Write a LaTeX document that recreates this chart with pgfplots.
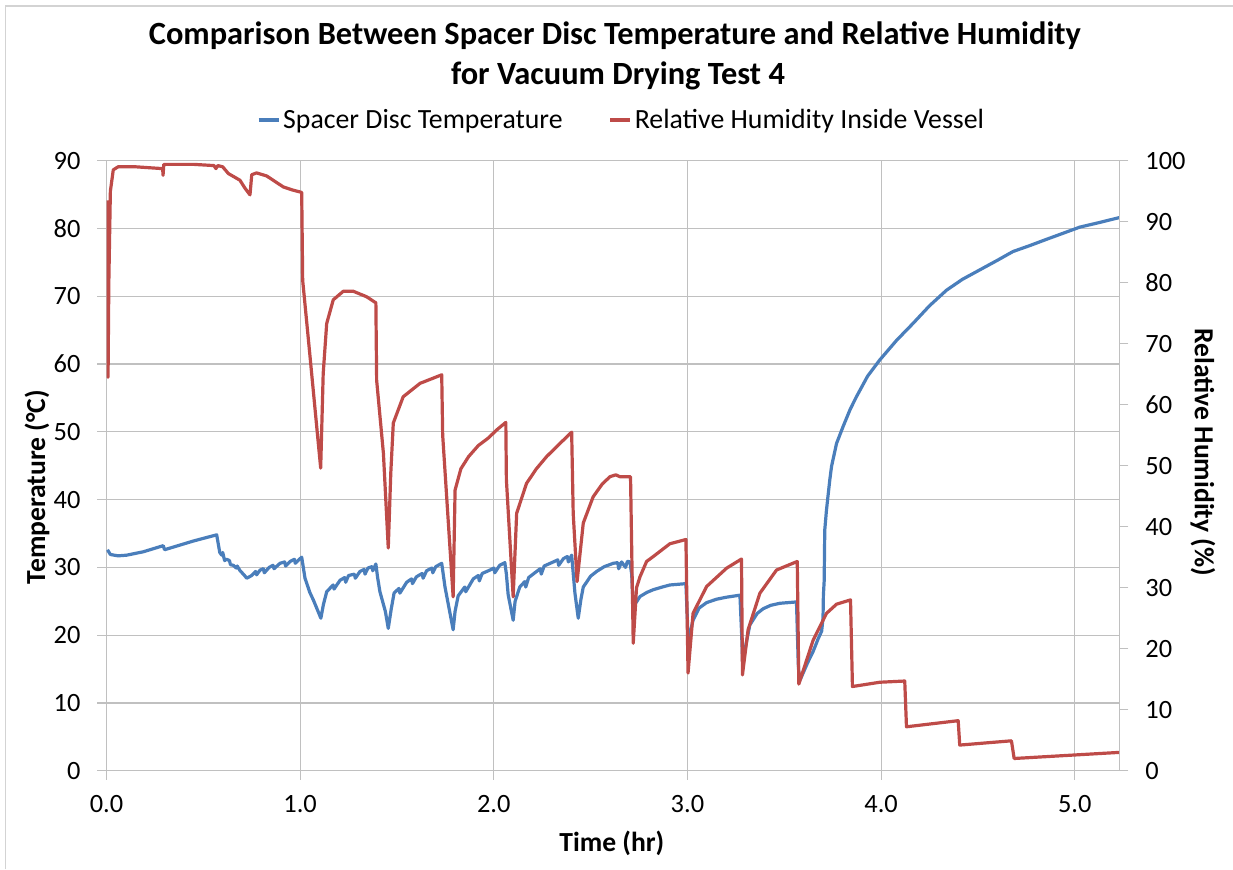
\documentclass[border=0pt]{standalone}
\usepackage{fontspec}
\setmainfont{Carlito}
\usepackage{pgfplots}
\pgfplotsset{compat=1.18}
\definecolor{tblue}{HTML}{4A7EBB}
\definecolor{tred}{HTML}{BE4B48}
\definecolor{gridc}{HTML}{C0C0C0}
\begin{document}
\begin{tikzpicture}
\path[use as bounding box] (0pt,0pt) rectangle (616.5pt,434.5pt);
\draw[gridc!70, line width=0.6pt] (2.8pt,0pt) -- (2.8pt,431.5pt) -- (616.5pt,431.5pt);
\node[font=\fontsize{16.2}{19}\selectfont\bfseries] at (307.5pt,416.5pt) {Comparison Between Spacer Disc Temperature and Relative Humidity};
\node[font=\fontsize{16.2}{19}\selectfont\bfseries] at (309pt,396.5pt) {for Vacuum Drying Test 4};
\begin{axis}[
  at={(53.25pt,49.15pt)}, anchor=south west, scale only axis,
  width=506.4pt, height=305pt,
  xmin=0, xmax=5.23, ymin=0, ymax=90,
  xtick={0,1,2,3,4,5}, ytick={0,10,...,90},
  xticklabel style={yshift=-4.5pt, /pgf/number format/.cd, fixed, fixed zerofill, precision=1},
  yticklabel style={xshift=-5pt},
  grid=major, major grid style={gridc, line width=0.6pt},
  axis line style={gridc, line width=0.6pt},
  tick style={gridc, line width=0.6pt}, tick align=outside, major tick length=4.5pt,
  xtick pos=bottom, ytick pos=left,
  ticklabel style={font=\fontsize{13.2}{15}\selectfont},
  /pgf/number format/assume math mode=true,
  xlabel={Time (hr)}, ylabel={Temperature (°C)},
  label style={font=\fontsize{13.8}{16}\selectfont\bfseries},
  xlabel style={at={(axis description cs:0.499,-0.1185)}, anchor=center},
  ylabel style={at={(axis description cs:-0.0686,0.465)}, anchor=center},
]
\addplot[tblue, line width=1.6pt, line join=round] coordinates {
(0.005,32.6) (0.02,31.9) (0.06,31.7) (0.104,31.8) (0.19,32.3) (0.293,33.2) (0.300,32.6) (0.311,32.7) (0.45,33.9) (0.569,34.8)
(0.58,33.0) (0.585,32.2) (0.595,31.8) (0.60,32.2) (0.61,31.0) (0.62,31.2) (0.635,31.0) (0.64,30.4) (0.655,30.3) (0.67,29.9) (0.675,30.2) (0.69,29.5) (0.71,28.9) (0.724,28.4)
(0.75,28.8) (0.77,29.4) (0.775,28.9) (0.793,29.6) (0.81,29.8) (0.815,29.2) (0.84,30.0) (0.86,30.3) (0.865,29.8) (0.896,30.6) (0.92,30.8) (0.925,30.2) (0.95,30.9) (0.97,31.2) (0.975,30.6) (1.0,31.3) (1.008,31.5)
(1.025,28.4) (1.05,26.3) (1.068,25.2) (1.107,22.5)
(1.12,24.5) (1.137,26.4) (1.17,27.4) (1.175,26.8) (1.206,28.1) (1.23,28.5) (1.235,27.8) (1.25,28.8) (1.28,29.0) (1.285,28.4) (1.309,29.4) (1.33,29.7) (1.335,29.0) (1.35,29.9) (1.37,30.1) (1.375,29.5) (1.391,30.5)
(1.40,28.5) (1.412,26.4) (1.44,23.5) (1.455,21.0)
(1.47,23.8) (1.485,26.2) (1.51,26.9) (1.515,26.2) (1.55,27.8) (1.575,28.3) (1.58,27.6) (1.6,28.6) (1.63,29.1) (1.635,28.4) (1.653,29.5) (1.68,29.9) (1.685,29.2) (1.70,30.1) (1.731,30.6)
(1.748,27.1) (1.79,20.8)
(1.80,23.5) (1.816,25.8) (1.85,27.1) (1.855,26.4) (1.894,28.3) (1.92,28.8) (1.925,28.0) (1.94,29.1) (1.98,29.6) (2.0,29.9) (2.005,29.2) (2.03,30.3) (2.057,30.7)
(2.065,29.0) (2.074,26.0) (2.1,22.2)
(2.11,25.0) (2.134,27.1) (2.16,27.9) (2.165,27.1) (2.18,28.5) (2.221,29.4) (2.24,29.8) (2.245,29.0) (2.26,30.2) (2.307,30.8) (2.33,31.1) (2.335,30.3) (2.36,31.3) (2.38,31.6) (2.385,30.8) (2.402,31.8)
(2.419,26.2) (2.436,22.5)
(2.45,25.3) (2.462,27.1) (2.5,28.7) (2.531,29.4) (2.57,30.1) (2.617,30.6) (2.64,30.7) (2.645,29.8) (2.66,30.8) (2.68,30.0) (2.69,30.9) (2.703,30.8)
(2.712,29.0) (2.72,24.0) (2.73,24.6) (2.755,25.7) (2.79,26.3) (2.823,26.7) (2.87,27.1) (2.909,27.4) (2.95,27.5) (2.992,27.6)
(3.0,22.0) (3.004,17.0) (3.015,20.5) (3.029,22.2) (3.06,24.0) (3.099,24.8) (3.15,25.3) (3.202,25.6) (3.271,25.9)
(3.28,20.0) (3.285,16.0) (3.30,18.3) (3.322,21.5) (3.36,23.2) (3.391,23.9) (3.43,24.4) (3.477,24.7) (3.563,24.9)
(3.572,16.0) (3.577,13.2) (3.585,13.6) (3.62,15.9) (3.649,17.6) (3.674,19.4) (3.693,20.6) (3.70,22.5) (3.702,25.9) (3.706,28.0) (3.709,35.5) (3.718,38.5) (3.735,42.9)
(3.744,44.9) (3.77,48.3) (3.804,50.8) (3.84,53.3) (3.873,55.2) (3.93,58.2) (3.993,60.6) (4.08,63.5) (4.165,66.0) (4.25,68.6) (4.338,70.9) (4.42,72.5) (4.51,73.9) (4.60,75.3) (4.681,76.6) (4.77,77.5) (4.854,78.4) (4.94,79.3) (5.026,80.2) (5.13,80.9) (5.229,81.6)
};
\end{axis}
\begin{axis}[
  at={(53.25pt,49.15pt)}, anchor=south west, scale only axis,
  width=506.4pt, height=305pt,
  xmin=0, xmax=5.23, ymin=0, ymax=100,
  axis y line*=right, axis x line=none,
  ytick={0,10,...,100},
  yticklabel style={xshift=5pt},
  axis line style={gridc, line width=0.6pt},
  tick style={gridc, line width=0.6pt}, tick align=outside, major tick length=4.5pt,
  ticklabel style={font=\fontsize{13.2}{15}\selectfont},
  /pgf/number format/assume math mode=true,
  ylabel={Relative Humidity (\%)},
  label style={font=\fontsize{13.8}{16}\selectfont\bfseries},
  ylabel style={at={(axis description cs:1.0826,0.522)}, anchor=center, rotate=180},
  legend style={draw=none, fill=none, legend columns=2, at={(0.509,1.0667)}, anchor=center,
    font=\fontsize{13.9}{16}\selectfont, /tikz/every even column/.append style={column sep=21.5pt},
    nodes={inner xsep=1.5pt}},
  legend image code/.code={\draw[#1] (0pt,0pt) -- (10pt,0pt);},
]
\addlegendimage{tblue, line width=1.6pt}
\addlegendentry{Spacer Disc Temperature}
\addplot[tred, line width=1.6pt, line join=round] coordinates {
(0.005,93.5) (0.008,64.5) (0.012,80) (0.02,95) (0.035,98.5) (0.06,99.0) (0.15,99.0) (0.29,98.7) (0.292,97.6) (0.296,99.4) (0.45,99.4) (0.555,99.2) (0.565,98.7) (0.575,99.2) (0.60,99.0)
(0.629,97.9) (0.689,96.8) (0.715,95.5) (0.741,94.4) (0.75,97.7) (0.775,98.0) (0.827,97.5) (0.913,95.7) (0.96,95.2) (1.008,94.8)
(1.013,80.4) (1.051,67.9) (1.106,49.6) (1.119,65.1) (1.137,73.3) (1.171,77.2) (1.223,78.6) (1.274,78.6) (1.343,77.7) (1.391,76.7)
(1.395,64.0) (1.43,52) (1.455,36.5) (1.468,48.8) (1.481,57.0) (1.532,61.3) (1.619,63.5) (1.731,64.9)
(1.736,55) (1.79,28.5) (1.80,46.0) (1.83,49.5) (1.87,51.5) (1.92,53.3) (1.97,54.5) (2.02,56.0) (2.062,57.1)
(2.065,47.7) (2.1,28.5) (2.118,42.2) (2.169,47.1) (2.22,49.5) (2.273,51.5) (2.34,53.6) (2.402,55.5)
(2.41,42.2) (2.43,31.0) (2.462,40.6) (2.513,44.9) (2.56,47.0) (2.6,48.2) (2.63,48.5) (2.651,48.2) (2.706,48.2)
(2.72,20.9) (2.737,30.0) (2.755,31.8) (2.789,34.3) (2.823,35.1) (2.909,37.2) (2.992,37.9)
(3.003,16.0) (3.029,25.8) (3.099,30.2) (3.202,33.2) (3.279,34.7)
(3.284,15.7) (3.313,23.1) (3.374,29.1) (3.46,32.9) (3.567,34.3)
(3.575,14.2) (3.649,21.4) (3.718,25.8) (3.77,27.3) (3.842,28.0)
(3.852,13.8) (3.993,14.5) (4.122,14.7) (4.131,7.2) (4.398,8.2) (4.406,4.2) (4.673,4.9) (4.687,2.0) (5.229,3.0)
};
\addlegendentry{Relative Humidity Inside Vessel}
\end{axis}
\end{tikzpicture}
\end{document}
